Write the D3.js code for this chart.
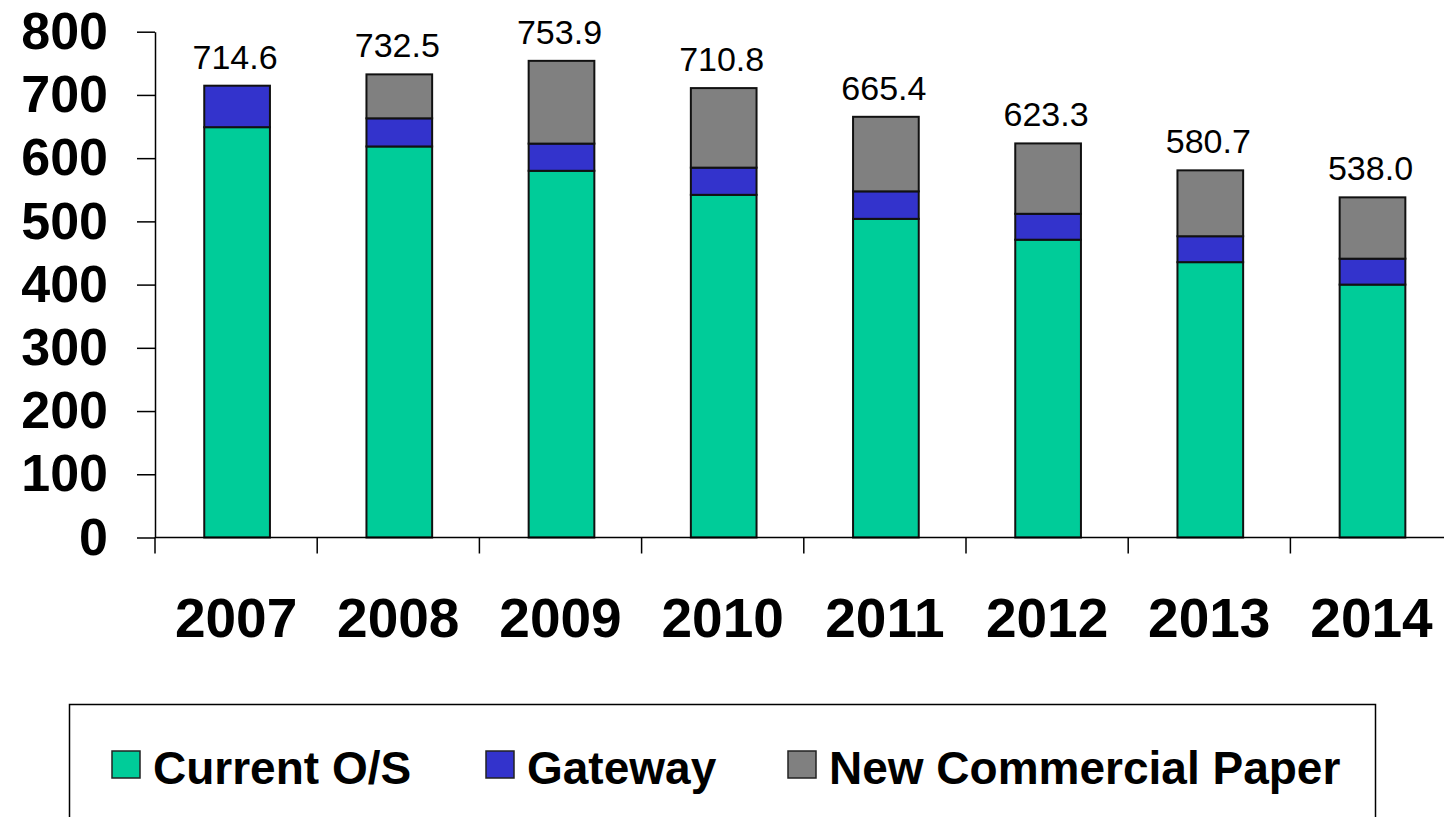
<!DOCTYPE html>
<html>

<head>
    <meta charset="utf-8">
    <title>Commercial paper outstanding</title>
    <script src="https://d3js.org/d3.v7.min.js"></script>
    <style>
        html,
        body {
            margin: 0;
            padding: 0;
            background: white;
        }

        svg text {
            font-family: Arial, "Liberation Sans", sans-serif;
        }
    </style>
</head>

<body>

    <div id="chart"></div>

    <script>
        // Categories and stacked series
        const years = ["2007", "2008", "2009", "2010", "2011", "2012", "2013", "2014"];
        const currentOS = [649.0, 618.5, 580.0, 542.0, 504.0, 471.0, 435.5, 400.0];
        const gateway = [65.6, 44.5, 43.0, 43.0, 43.5, 41.0, 41.0, 41.0];
        const newCP = [0.0, 69.5, 130.9, 125.8, 117.9, 111.3, 104.2, 97.0];

        const yTicks = [0, 100, 200, 300, 400, 500, 600, 700, 800];

        const seriesNames = ["Current O/S", "Gateway", "New Commercial Paper"];
        const seriesColors = {
            "Current O/S": "#00CC99",
            "Gateway": "#3333CC",
            "New Commercial Paper": "#808080",
        };

        // table for d3.stack
        const table = years.map((yr, i) => ({
            year: yr,
            "Current O/S": currentOS[i],
            "Gateway": gateway[i],
            "New Commercial Paper": newCP[i],
        }));

        const W = 1444, H = 817;
        const margins = { top: 32, left: 155, bottom: 280 };
        const plotBottom = 537.5;
        const step = 162.2;

        const svg = d3.select("#chart")
            .append("svg")
            .attr("width", W)
            .attr("height", H);

        svg.append("rect")
            .attr("width", W)
            .attr("height", H)
            .attr("fill", "white");

        // Scales
        const xScale = d3.scaleBand()
            .domain(years)
            .range([margins.left, margins.left + step * years.length])
            .padding(0);

        const yScale = d3.scaleLinear()
            .domain([0, 800])
            .range([plotBottom, 31.7]);

        const barW = xScale.bandwidth() * 0.405;

        // Stacked bars
        const stacked = d3.stack().keys(seriesNames)(table);

        const layers = svg.append("g")
            .selectAll("g")
            .data(stacked)
            .enter()
            .append("g")
            .attr("fill", (d) => seriesColors[d.key]);

        layers.selectAll("rect")
            .data((d) => d.filter((s) => s[1] - s[0] > 0))
            .enter()
            .append("rect")
            .attr("x", (d) => xScale(d.data.year) + (xScale.bandwidth() - barW) / 2 + 1)
            .attr("width", barW)
            .attr("y", (d) => yScale(d[1]))
            .attr("height", (d) => yScale(d[0]) - yScale(d[1]))
            .attr("stroke", "#111")
            .attr("stroke-width", 2);

        // Total labels above bars
        svg.append("g")
            .selectAll("text")
            .data(table)
            .enter()
            .append("text")
            .attr("x", (d) => xScale(d.year) + xScale.bandwidth() / 2 - 1)
            .attr("y", (d) => yScale(d["Current O/S"] + d["Gateway"] + d["New Commercial Paper"]) - 17)
            .attr("text-anchor", "middle")
            .style("font-size", "34px")
            .attr("fill", "black")
            .text((d) => d3.format(".1f")(d["Current O/S"] + d["Gateway"] + d["New Commercial Paper"]));

        // Y axis
        const yAxis = svg.append("g")
            .attr("transform", `translate(${margins.left},0)`)
            .call(d3.axisLeft(yScale)
                .tickValues(yTicks)
                .tickFormat(d3.format("d"))
                .tickSize(18)
                .tickSizeOuter(0)
                .tickPadding(29));

        yAxis.selectAll("text")
            .style("font-size", "52px")
            .style("font-weight", "bold")
            .attr("fill", "black");
        yAxis.selectAll("line, path").attr("stroke", "black").attr("stroke-width", 1.5);

        // X axis: ticks on band edges, labels centred
        const xAxis = svg.append("g")
            .attr("transform", `translate(0,${plotBottom})`);

        xAxis.append("line")
            .attr("x1", margins.left)
            .attr("x2", xScale.range()[1])
            .attr("stroke", "black")
            .attr("stroke-width", 1.5);

        xAxis.selectAll(".tick")
            .data(years)
            .enter()
            .append("line")
            .attr("class", "tick")
            .attr("x1", (d) => xScale(d))
            .attr("x2", (d) => xScale(d))
            .attr("y1", 0)
            .attr("y2", 16)
            .attr("stroke", "black")
            .attr("stroke-width", 1.5);

        xAxis.selectAll(".label")
            .data(years)
            .enter()
            .append("text")
            .attr("class", "label")
            .attr("x", (d) => xScale(d) + xScale.bandwidth() / 2)
            .attr("y", 99)
            .attr("text-anchor", "middle")
            .style("font-size", "55px")
            .style("font-weight", "bold")
            .attr("fill", "black")
            .text((d) => d);

        // Legend box (bottom edge runs off the picture)
        const legend = svg.append("g");

        legend.append("rect")
            .attr("x", 69.5)
            .attr("y", 704.5)
            .attr("width", 1306)
            .attr("height", 140)
            .attr("fill", "white")
            .attr("stroke", "black")
            .attr("stroke-width", 1.5);

        const legendX = [112, 486, 788];

        seriesNames.forEach((name, i) => {
            const entry = legend.append("g")
                .attr("transform", `translate(${legendX[i]},751)`);

            entry.append("rect")
                .attr("width", 28)
                .attr("height", 27)
                .attr("fill", seriesColors[name])
                .attr("stroke", "#222")
                .attr("stroke-width", 1.5);

            entry.append("text")
                .attr("x", 41)
                .attr("y", 33)
                .style("font-size", "46px")
                .style("font-weight", "bold")
                .attr("fill", "black")
                .text(name);
        });
    </script>
</body>

</html>
